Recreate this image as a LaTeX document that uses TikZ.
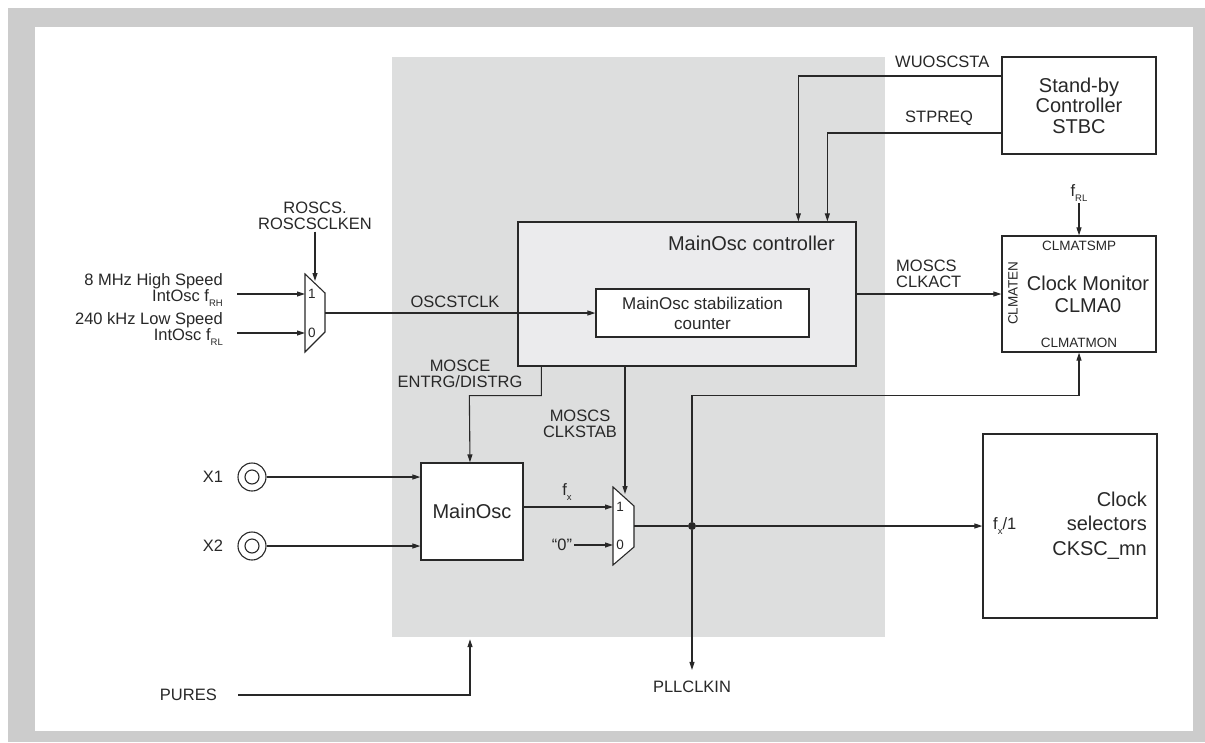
\documentclass[tikz,border=0pt]{standalone}
\usepackage{fontspec}
\setmainfont{Liberation Sans}
\definecolor{frameGray}{RGB}{204,204,204}
\definecolor{oscGray}{RGB}{221,222,222}
\definecolor{ctrlGray}{RGB}{235,235,237}
\definecolor{wire}{RGB}{40,40,40}
\usetikzlibrary{arrows.meta, positioning, calc}
\newcommand{\fsub}[1]{f\raisebox{-0.5ex}{\fontsize{9.5}{9.5}\selectfont #1}}

\begin{document}
\begin{tikzpicture}[x=1pt, y=-1pt,
    box/.style={draw=wire, line width=1.3pt, fill=white, inner sep=0pt},
    lbl/.style={font=\fontsize{16.5}{16}\selectfont, align=center, inner sep=2pt, text=wire},
    big/.style={font=\fontsize{20}{22}\selectfont, align=center, inner sep=0pt, text=wire},
    pin/.style={font=\fontsize{13.5}{14}\selectfont, inner sep=1pt, text=wire},
    arr/.style={-{Triangle[length=8pt,width=5pt]}, line width=1.1pt, draw=wire},
    wireln/.style={line width=1.1pt, draw=wire},
    pad/.style={circle, draw=wire, line width=1.1pt, minimum size=28pt, inner sep=0pt},
    dot/.style={circle, fill=wire, minimum size=8pt, inner sep=0pt},
    mux/.style={draw=wire, line width=1.1pt, fill=white}
  ]
    \useasboundingbox (0,0) rectangle (1205,742);
    \fill[frameGray] (8,8) rectangle (1205,742);
    \fill[white] (35,27) rectangle (1193,731);

    % MainOsc area
    \node[fill=oscGray, minimum width=493pt, minimum height=580pt, inner sep=0pt] (oscarea) at (638.5,347) {};

    % blocks
    \node[box, fill=ctrlGray, minimum width=338pt, minimum height=144pt] (ctrl) at (687,294) {};
    \node[big, anchor=east] (ctrltitle) at (835,243) {MainOsc controller};
    \node[box, minimum width=213pt, minimum height=48pt, align=center,
          font=\fontsize{17}{20}\selectfont, text=wire] (counter) at (702.5,313)
      {MainOsc stabilization\\counter};
    \node[box, minimum width=154pt, minimum height=97pt, big,
          font=\fontsize{20}{20.5}\selectfont] (stbc) at (1079,105.5)
      {Stand-by\\Controller\\STBC};
    \node[box, minimum width=154pt, minimum height=116pt] (clma) at (1079,294) {};
    \node[big] (clmatext) at (1088,294) {Clock Monitor\\CLMA0};
    \node[pin] (clmatsmp) at (1079,246) {CLMATSMP};
    \node[pin] (clmatmon) at (1079,343) {CLMATMON};
    \node[pin, rotate=90] (clmaten) at (1013,293) {CLMATEN};
    \node[box, minimum width=174pt, minimum height=184pt] (cksc) at (1070,526) {};
    \node[big, align=right, anchor=east, font=\fontsize{20}{24.5}\selectfont] (ckscText) at (1147,525.5)
      {Clock\\selectors\\CKSC\_mn};
    \node[lbl, anchor=west] (fxdiv) at (991,526) {\fsub{x}/1};
    \node[box, minimum width=102pt, minimum height=97pt, big] (mainosc) at (472,511.5) {MainOsc};

    % multiplexers
    \draw[mux] (305,274) -- (325,293) -- (325,332) -- (305,352) -- cycle;
    \draw[mux] (613,487) -- (634,506) -- (634,547) -- (613,565) -- cycle;
    \node[pin] at (312,294) {1};
    \node[pin] at (312,333) {0};
    \node[pin] at (620,507) {1};
    \node[pin] at (620,545) {0};
    \coordinate (m1in1) at (305,294);
    \coordinate (m1in0) at (305,333);
    \coordinate (m1sel) at (315,281);
    \coordinate (m1out) at (325,313);
    \coordinate (m2in1) at (613,507);
    \coordinate (m2in0) at (613,545);
    \coordinate (m2sel) at (625,494);
    \coordinate (m2out) at (634,526);

    % pins and labels
    \node[lbl, align=right, anchor=east] (inhs) at (225,290) {8 MHz High Speed\\IntOsc \fsub{RH}};
    \node[lbl, align=right, anchor=east] (inls) at (225,329) {240 kHz Low Speed\\IntOsc \fsub{RL}};
    \node[lbl] (roscs) at (315,215.5) {ROSCS.\\ROSCSCLKEN};
    \node[pad] (x1pad) at (252,477) {};
    \node[pad] (x2pad) at (252,546) {};
    \draw[wireln] (x1pad.center) circle (7);
    \draw[wireln] (x2pad.center) circle (7);
    \node[lbl] (x1) at (213,477) {X1};
    \node[lbl] (x2) at (213,546) {X2};
    \node[lbl, anchor=east] (pures) at (219,695) {PURES};
    \node[lbl] (zero) at (562,545) {“0”};
    \node[lbl] (pll) at (692,687) {PLLCLKIN};
    \node[lbl] (frl) at (1079,193) {\fsub{RL}};
    \node[dot] (split) at (692,526) {};

    % connectors
    \draw[arr] ([xshift=12pt]inhs.east |- m1in1) -- (m1in1);
    \draw[arr] ([xshift=12pt]inls.east |- m1in0) -- (m1in0);
    \draw[arr] (roscs.south) -- (m1sel);
    \draw[arr] (m1out) -- (counter.west);
    \node[lbl] at (455,302) {OSCSTCLK};
    \draw[arr] ([yshift=29.5pt]stbc.west) -| ([xshift=281pt]ctrl.north west);
    \node[lbl, anchor=west] at (893,62) {WUOSCSTA};
    \draw[arr] ([yshift=-27.5pt]stbc.west) -| ([xshift=310pt]ctrl.north west);
    \node[lbl, anchor=west] at (903,118) {STPREQ};
    \draw[arr] (ctrl.east) -- (clma.west);
    \node[lbl, align=left, anchor=west] at (894,273.5) {MOSCS\\CLKACT};
    \draw[arr] (frl.south) -- (clma.north);
    \draw[arr] ([xshift=24pt]ctrl.south west) |- ++(-72,29) -- ([xshift=-2pt]mainosc.north);
    \node[lbl] at (460,374) {MOSCE\\ENTRG/DISTRG};
    \draw[arr] ([xshift=-62pt]ctrl.south) -- (m2sel);
    \node[lbl] at (580,423.5) {MOSCS\\CLKSTAB};
    \draw[arr] (x1pad.east) -- (x1pad -| mainosc.west);
    \draw[arr] (x2pad.east) -- (x2pad -| mainosc.west);
    \draw[arr] (mainosc.east |- m2in1) -- (m2in1);
    \node[lbl] at (567,492) {\fsub{x}};
    \draw[arr] (zero.east) -- (m2in0);
    \draw[wireln] (m2out) -- (split);
    \draw[arr] (split) -- (cksc.west);
    \draw[arr] (split) -- ([yshift=9pt]pll.north);
    \draw[arr] (split) |- ([yshift=-43pt]clma.south) -- (clma.south);
    \draw[arr] ([xshift=19pt]pures.east) -| ([xshift=-168.5pt,yshift=-2pt]oscarea.south);
  \end{tikzpicture}
\end{document}
